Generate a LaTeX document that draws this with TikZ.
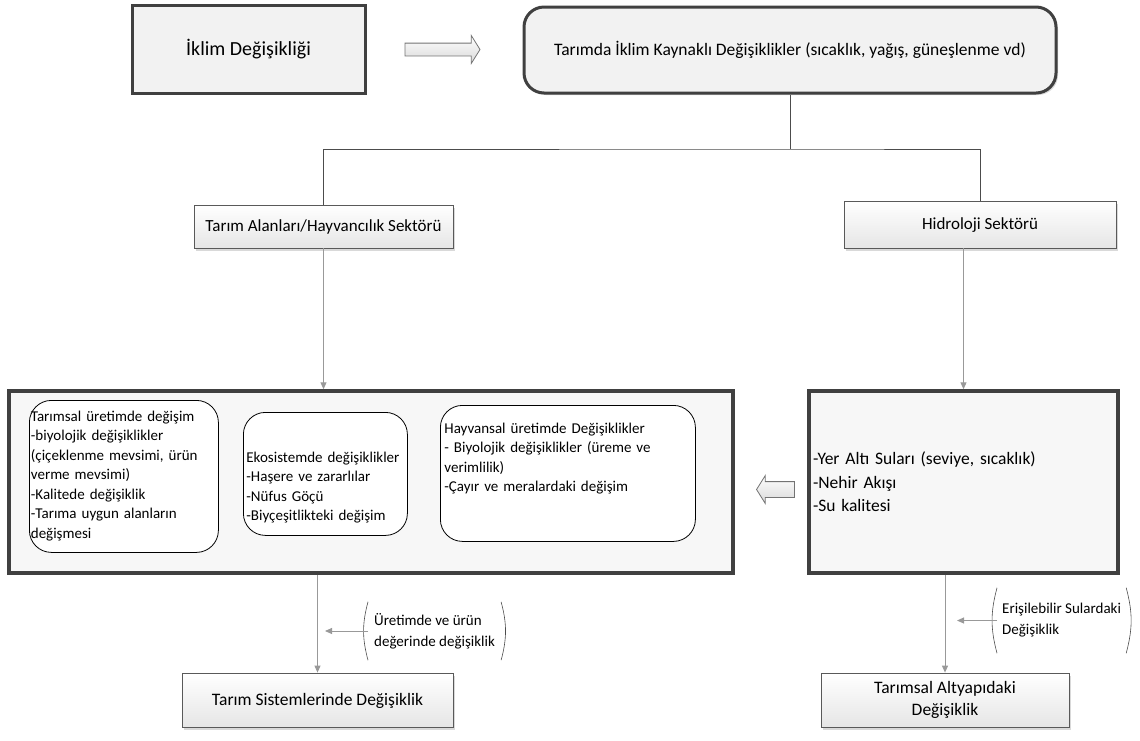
\documentclass[tikz,border=0pt]{standalone}
\usepackage{fontspec}
\setmainfont{Carlito}
\usetikzlibrary{positioning, arrows.meta, shapes.arrows, shadows}

\begin{document}
\begin{tikzpicture}
            [x=1pt, y=1pt,
             mainbox/.style={rectangle, draw=black!75, line width=3pt, fill=black!5,
               drop shadow={shadow xshift=2pt, shadow yshift=-2pt, opacity=.3}},
             sectorbox/.style={rectangle, draw=black!65, line width=.8pt,
               top color=white, bottom color=black!10,
               drop shadow={shadow xshift=2pt, shadow yshift=-3pt, opacity=.3}},
             oneline/.style={text height=14pt, text depth=4pt},
             innerbox/.style={rectangle, rounded corners=22pt, draw=black, line width=.8pt,
               fill=white, anchor=north west, align=left, inner ysep=0pt,
               font=\fontsize{15}{19.5}\selectfont},
             notebox/.style={anchor=west, align=left, inner xsep=6pt,
               font=\fontsize{15}{21}\selectfont},
             paren/.style={draw=black!70, line width=.6pt},
             blockarrow/.style={single arrow, draw=black!55, line width=.8pt,
               top color=white, bottom color=black!15, inner sep=0pt},
             treeline/.style={draw=black!70, line width=1pt},
             conn/.style={draw=black!40, line width=1pt, ->},
             >={Triangle[length=7pt, width=6pt]}]

            \useasboundingbox (0,0) rectangle (1140,-740);

            % top row
            \node[mainbox, text height=16pt, text depth=4pt, minimum width=233pt, minimum height=88pt,
                  font=\fontsize{20}{24}\selectfont] (iklim) at (248.5,-49) {İklim Değişikliği};
            \node[mainbox, oneline, rounded corners=20pt, minimum width=532pt, minimum height=86pt,
                  font=\fontsize{17.5}{21}\selectfont] (kaynak) at (790,-50)
                  {Tarımda İklim Kaynaklı Değişiklikler (sıcaklık, yağış, güneşlenme vd)};
            \node[blockarrow, minimum height=75pt, text height=6pt, text depth=6pt,
                  single arrow head extend=7.5pt, single arrow tip angle=116] (ok1) at (440.5,-49.5) {};

            % sectors
            \node[sectorbox, oneline, minimum width=259pt, minimum height=43pt,
                  font=\fontsize{17}{21}\selectfont] (tarimalan) at (323.5,-226.5)
                  {Tarım Alanları/Hayvancılık Sektörü};
            \node[sectorbox, oneline, minimum width=272pt, minimum height=47pt,
                  font=\fontsize{17}{21}\selectfont] (hidro) at (980,-224.5) {Hidroloji Sektörü};

            \coordinate (j) at (790,-149);
            \draw[treeline] (kaynak.south) -- (j);
            \draw[treeline] (tarimalan.north) |- (j) -| (hidro.north);

            % effects
            \node[mainbox, line width=3.5pt, fill=black!3, minimum width=724pt, minimum height=182pt]
                  (etki) at (371,-482) {};
            \node[mainbox, line width=3.5pt, fill=black!3, minimum width=309pt, minimum height=182pt,
                  text width=301pt, align=left, inner xsep=4pt,
                  font=\fontsize{17.5}{23.5}\selectfont] (su) at (963.5,-482)
                  {-Yer Altı Suları (seviye, sıcaklık)\\-Nehir Akışı\\-Su kalitesi};
            \node[blockarrow, minimum height=38pt, text height=7.5pt, text depth=7.5pt,
                  shape border rotate=180, single arrow head extend=6pt,
                  single arrow tip angle=116] (ok2) at (778,-489.5) {};

            \node[innerbox, inner xsep=1.5pt, text width=186pt, text height=21pt, text depth=131pt]
                  (tarimsal) at (29,-400)
                  {Tarımsal üretimde değişim\\-biyolojik değişiklikler\\(çiçeklenme mevsimi, ürün\\verme mevsimi)\\-Kalitede değişiklik\\-Tarıma uygun alanların\\değişmesi};
            \node[innerbox, inner xsep=3pt, text width=158pt, text height=50pt, text depth=73pt]
                  (ekosistem) at (243,-412)
                  {Ekosistemde değişiklikler\\-Haşere ve zararlılar\\-Nüfus Göçü\\-Biyçeşitlikteki değişim};
            \node[innerbox, inner xsep=4pt, text width=247pt, text height=28pt, text depth=108pt]
                  (hayvansal) at (440,-405)
                  {Hayvansal üretimde Değişiklikler\\- Biyolojik değişiklikler (üreme ve\\verimlilik)\\-Çayır ve meralardaki değişim};

            \draw[conn] (tarimalan.south) -- (tarimalan.south |- etki.north);
            \draw[conn] (su.north |- hidro.south) -- (su.north);

            % results
            \node[sectorbox, oneline, minimum width=271pt, minimum height=54pt,
                  font=\fontsize{17.5}{22}\selectfont] (sistem) at (317.5,-700)
                  {Tarım Sistemlerinde Değişiklik};
            \node[sectorbox, minimum width=248pt, minimum height=54pt, align=center,
                  font=\fontsize{17.5}{22}\selectfont] (altyapi) at (945,-700)
                  {Tarımsal Altyapıdaki\\Değişiklik};

            \draw[conn] (sistem.north |- etki.south) -- (sistem.north);
            \draw[conn] (altyapi.north |- su.south) -- (altyapi.north);

            \node[notebox, minimum height=58pt] (urun) at (368,-631)
                  {Üretimde ve ürün\\değerinde değişiklik};
            \node[notebox, minimum height=65pt, inner xsep=5pt] (erisim) at (997,-620.5)
                  {Erişilebilir Sulardaki\\Değişiklik};
            \draw[paren] (urun.north west) to[bend right=15] (urun.south west);
            \draw[paren] (urun.north east) to[bend left=15] (urun.south east);
            \draw[paren] (erisim.north west) to[bend right=15] (erisim.south west);
            \draw[paren] (erisim.north east) to[bend left=15] (erisim.south east);

            \coordinate (t1) at (325,-631);
            \coordinate (t2) at (957,-620.5);
            \draw[conn] (urun.west) -- (t1);
            \draw[conn] (erisim.west) -- (t2);
        \end{tikzpicture}
\end{document}
